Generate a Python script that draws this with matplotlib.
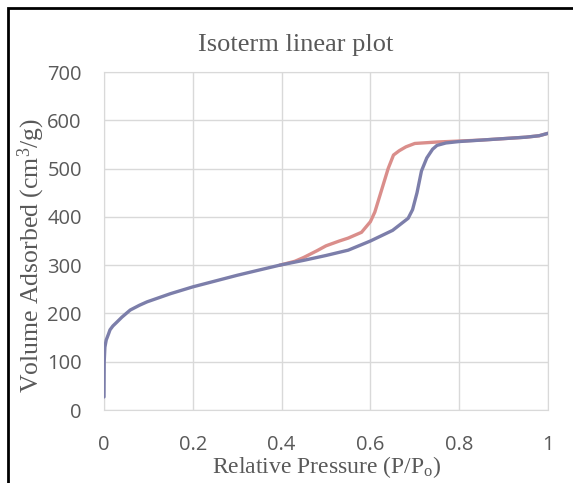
import matplotlib
matplotlib.use("Agg")
from matplotlib import pyplot as plt
from matplotlib.patches import Rectangle

# Adsorption branch
p_ads = [0.0, 0.0005, 0.002, 0.005, 0.01, 0.0135, 0.02, 0.029, 0.04, 0.059, 0.08,
         0.097, 0.15, 0.2, 0.25, 0.3, 0.35, 0.396, 0.45, 0.5, 0.55, 0.6, 0.65,
         0.685, 0.695, 0.705, 0.715, 0.727, 0.74, 0.75, 0.77, 0.8, 0.85, 0.9, 0.95, 0.98, 1.0]
v_ads = [27, 100, 130, 145, 157, 166, 174, 182, 192, 207, 217,
         224, 241, 255, 267, 279, 290, 300, 310, 320, 331, 350, 372,
         397, 415, 450, 495, 522, 540, 548, 553, 556, 559, 562, 565, 568, 573]

# Desorption branch
p_des = [0.396, 0.43, 0.45, 0.48, 0.5, 0.53, 0.55, 0.58, 0.6, 0.61, 0.62, 0.63,
         0.64, 0.652, 0.665, 0.68, 0.7, 0.75, 0.8, 0.85, 0.9, 0.95, 0.98, 1.0]
v_des = [300, 308, 316, 330, 340, 350, 356, 368, 390, 410, 440, 470,
         500, 528, 537, 545, 552, 555, 557, 559, 562, 565, 568, 573]

plt.rcParams['mathtext.fontset'] = 'custom'
plt.rcParams['mathtext.rm'] = 'Liberation Serif'
plt.rcParams['mathtext.it'] = 'Liberation Serif:italic'

fig = plt.figure(figsize=(5.73, 4.83), dpi=100)
ax = fig.add_axes([104/573, 73/483, 444/573, 338/483])

ax.plot(p_des, v_des, color='#DA8E8B', lw=2.4, solid_capstyle='round', zorder=3)
ax.plot(p_ads, v_ads, color='#7C7EAA', lw=2.4, solid_capstyle='round', zorder=4)

ax.set_xlim(0, 1)
ax.set_ylim(0, 700)
ax.set_xticks([0, 0.2, 0.4, 0.6, 0.8, 1])
ax.set_xticklabels(['0', '0.2', '0.4', '0.6', '0.8', '1'])
ax.set_yticks(range(0, 701, 100))
ax.grid(True, color='#D9D9D9', lw=1)
ax.set_axisbelow(True)
for s in ax.spines.values():
    s.set_color('#D9D9D9')
ax.tick_params(length=0, labelsize=14.5, labelcolor='#595959')
for lab in ax.get_xticklabels() + ax.get_yticklabels():
    lab.set_family('Open Sans')
ax.tick_params(axis='x', pad=18)
ax.tick_params(axis='y', pad=16)

fig.text(296/573, 1 - 45/483, 'Isoterm linear plot', ha='center', va='center',
         family='Liberation Serif', fontsize=19, color='#595959')
fig.text(327/573, 1 - 467/483, 'Relative Pressure (P/P$_\\mathrm{o}$)', ha='center', va='center',
         family='Liberation Serif', fontsize=17, color='#595959')
fig.text(31/573, 1 - 255/483, 'Volume Adsorbed (cm$^\\mathrm{3}$/g)', ha='center', va='center',
         rotation=90, family='Liberation Serif', fontsize=18.5, color='#595959')

# outer frame (cropped on right/bottom)
fig.patches.append(Rectangle((8/573, -0.1), 1.2, 1.1 - 8/483, transform=fig.transFigure,
                             fill=False, edgecolor='black', lw=2))

fig.savefig('out.png', dpi=100)
